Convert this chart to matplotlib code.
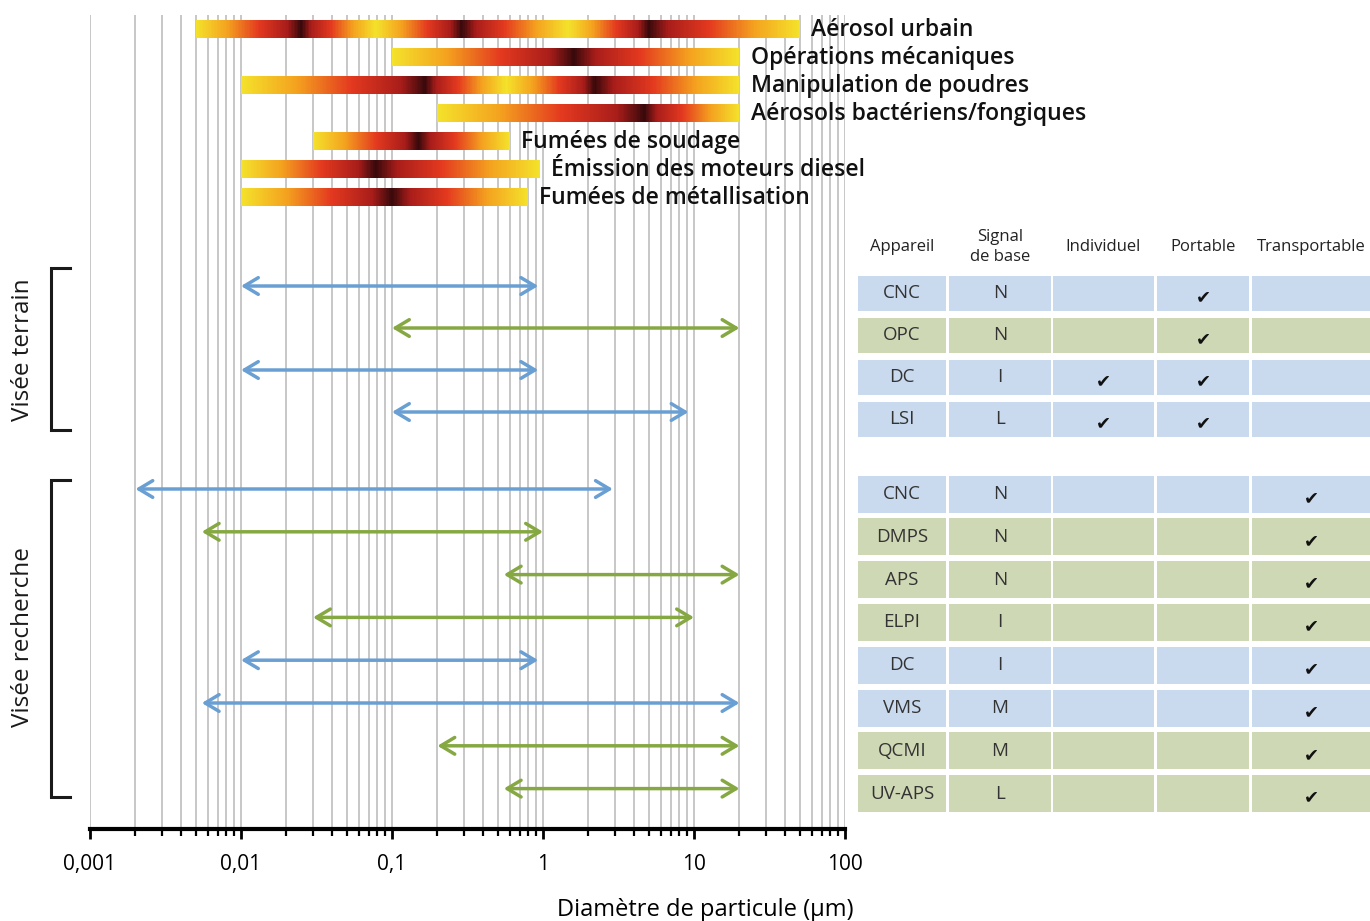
import numpy as np
import matplotlib
matplotlib.use("Agg")
import matplotlib.pyplot as plt
from matplotlib.colors import LinearSegmentedColormap
import matplotlib.transforms as mtransforms

plt.rcParams['font.family'] = ['Open Sans', 'DejaVu Sans']

# ---- data --------------------------------------------------------------
sources = ['Aérosol urbain', 'Opérations mécaniques', 'Manipulation de poudres',
           'Aérosols bactériens/fongiques', 'Fumées de soudage',
           'Émission des moteurs diesel', 'Fumées de métallisation']
# gradient anchors along each bar (diameter in µm, intensity 0 = yellow, 1 = dark)
source_d = [[0.005, 0.025, 0.078, 0.29, 1.47, 5.0, 50],
            [0.1, 1.6, 20],
            [0.01, 0.166, 0.57, 2.2, 20],
            [0.2, 4.7, 20],
            [0.03, 0.15, 0.6],
            [0.01, 0.078, 0.95],
            [0.01, 0.1, 0.8]]
source_i = [[0, 1, 0, 1, 0, 1, 0],
            [0, 1, 0],
            [0, 1, 0, 1, 0],
            [0, 1, 0],
            [0, 1, 0],
            [0, 1, 0],
            [0, 1, 0]]

terrain_dev = ['CNC', 'OPC', 'DC', 'LSI']
terrain_sig = ['N', 'N', 'I', 'L']
terrain_lo = [0.01, 0.1, 0.01, 0.1]
terrain_hi = [0.93, 20, 0.93, 9.2]
terrain_kind = ['b', 'g', 'b', 'b']
terrain_chk = [(0, 1, 0), (0, 1, 0), (1, 1, 0), (1, 1, 0)]

rech_dev = ['CNC', 'DMPS', 'APS', 'ELPI', 'DC', 'VMS', 'QCMI', 'UV-APS']
rech_sig = ['N', 'N', 'N', 'I', 'I', 'M', 'M', 'L']
rech_lo = [0.002, 0.0055, 0.55, 0.03, 0.01, 0.0055, 0.2, 0.55]
rech_hi = [2.9, 1.0, 20, 10, 0.93, 20, 20, 20]
rech_kind = ['b', 'g', 'g', 'g', 'b', 'b', 'g', 'g']
rech_chk = [(0, 0, 1)] * 8

headers = ['Appareil', 'Signal\nde base', 'Individuel', 'Portable', 'Transportable']
ticks = [0.001, 0.01, 0.1, 1, 10, 100]
tick_labels = ['0,001', '0,01', '0,1', '1', '10', '100']

# ---- styles ------------------------------------------------------------
arrow_col = {'b': '#6a9fd3', 'g': '#86a843'}
cell_col = {'b': '#c9d9ee', 'g': '#cfd8b4'}
heat = LinearSegmentedColormap.from_list(
    'heat', [(0, '#f4e22b'), (0.3, '#f4a21f'), (0.6, '#e3391f'),
             (0.87, '#a81d1a'), (1, '#3a090b')])

fig = plt.figure(figsize=(13.7, 9.21), dpi=100)
ax = fig.add_axes([90 / 1370, 92 / 921, 755 / 1370, 814 / 921])
ax.set_xscale('log')
ax.set_xlim(0.001, 100)
ax.set_ylim(829, 15)

# grid at every decade subdivision
grid_x = [m * 10.0 ** e for e in range(-3, 2) for m in range(1, 10)] + [100]
for gx in grid_x:
    ax.axvline(gx, color='#bdbdbd', lw=1.2, zorder=0)

# gradient bars
bar_y0, bar_dy, bar_h = 29, 28, 18
for i, name in enumerate(sources):
    yc = bar_y0 + i * bar_dy
    ld = np.log10(source_d[i])
    xe = np.linspace(ld[0], ld[-1], 400)
    xm = 0.5 * (xe[1:] + xe[:-1])
    c = np.interp(xm, ld, source_i[i])[None, :]
    ax.pcolormesh(10 ** xe, [yc - bar_h / 2, yc + bar_h / 2], c, cmap=heat,
                  vmin=0, vmax=1, shading='flat', zorder=2, antialiased=False,
                  edgecolors='none')
    ax.annotate(name, (source_d[i][-1], yc + 1), xytext=(8, 0), textcoords='offset points',
                ha='left', va='center', fontsize=16.5, fontweight='semibold', color='#111111')

# rows
t_y0, t_dy = 293, 42
r_y0, r_dy = 494, 42.8
t_rows = [t_y0 + k * t_dy for k in range(len(terrain_dev))]
r_rows = [r_y0 + k * r_dy for k in range(len(rech_dev))]

def arrow(lo, hi, y, kind):
    ax.annotate('', xy=(hi, y), xytext=(lo, y),
                arrowprops=dict(arrowstyle='<->,head_length=1.0,head_width=0.6',
                                color=arrow_col[kind], lw=2.5, shrinkA=0, shrinkB=0,
                                mutation_scale=10), zorder=3)

for k in range(len(terrain_dev)):
    arrow(terrain_lo[k], terrain_hi[k], t_rows[k] - 7, terrain_kind[k])
for k in range(len(rech_dev)):
    arrow(rech_lo[k], rech_hi[k], r_rows[k] - 5, rech_kind[k])

# brackets
bt = mtransforms.blended_transform_factory(ax.transAxes, ax.transData)
for (y1, y2, lab, ym) in [(268, 430, 'Visée terrain', 350), (480, 797, 'Visée recherche', 637)]:
    ax.plot([-0.0265, -0.0517, -0.0517, -0.0265], [y1, y1, y2, y2], color='#1a1a1a',
            lw=2.2, transform=bt, clip_on=False, solid_joinstyle='miter')
    ax.text(-0.089, ym, lab, rotation=90, ha='center', va='center', fontsize=17.5,
            transform=bt, color='#1a1a1a')

# axis
for s in ['left', 'right', 'top']:
    ax.spines[s].set_visible(False)
ax.spines['bottom'].set_linewidth(3)
ax.spines['bottom'].set_position(('data', 829))
ax.set_yticks([])
ax.set_xticks(ticks)
ax.set_xticklabels(tick_labels, fontsize=15)
ax.tick_params(axis='x', which='major', length=7, width=2, pad=11, color='black')
ax.tick_params(axis='x', which='minor', length=5, width=1.6, color='black')
ax.set_xlabel('Diamètre de particule (µm)', fontsize=17)
ax.xaxis.set_label_coords(0.8146, -0.085)

# table
tx = fig.add_axes([858 / 1370, 92 / 921, 512 / 1370, 814 / 921], sharey=ax)
tx.set_xlim(0, 512)
tx.axis('off')
col_l = [0, 91, 195, 299, 394]
col_r = [88, 193, 296, 391, 512]
col_c = [(a + b) / 2 for a, b in zip(col_l, col_r)]
for j, h in enumerate(headers):
    tx.text(col_c[j], 247, h, ha='center', va='center', fontsize=12, linespacing=1.3,
            color='#222222')

def table_rows(rows, devs, sigs, kinds, chks, hgt):
    for k, y in enumerate(rows):
        tx.barh([y] * 5, [r - l for l, r in zip(col_l, col_r)], left=col_l, height=hgt,
                color=cell_col[kinds[k]], edgecolor='none')
        tx.text(col_c[0], y, devs[k], ha='center', va='center', fontsize=13.5, color='#333333')
        tx.text(col_c[1], y, sigs[k], ha='center', va='center', fontsize=13.5, color='#333333')
        for j, v in enumerate(chks[k]):
            if v:
                tx.text(col_c[2 + j], y + 4, '\u2714', ha='center', va='center',
                        fontsize=13, color='#111111', family='DejaVu Sans')

table_rows(t_rows, terrain_dev, terrain_sig, terrain_kind, terrain_chk, 35)
table_rows(r_rows, rech_dev, rech_sig, rech_kind, rech_chk, 37)

fig.savefig('out.png', dpi=100)
